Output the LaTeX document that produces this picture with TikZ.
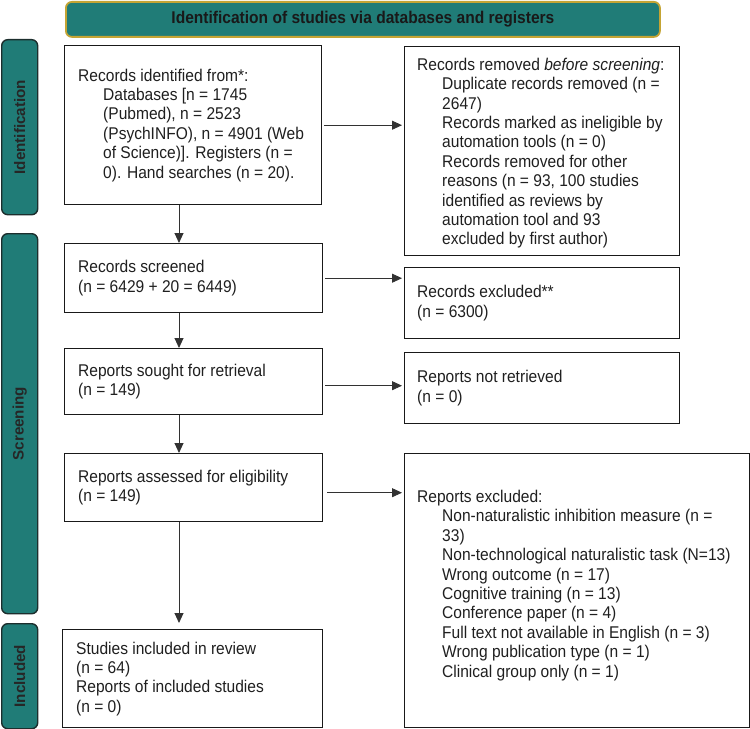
\documentclass[tikz,border=0pt]{standalone}
\usepackage{fontspec}
\setmainfont{Liberation Sans}[FakeStretch=0.915]
\newfontfamily\sidefont{Liberation Sans}
\usetikzlibrary{arrows.meta,calc}
\definecolor{teal1}{RGB}{32,124,119}
\definecolor{goldb}{RGB}{196,164,52}
\definecolor{sideb}{RGB}{28,46,45}
\definecolor{boxb}{RGB}{25,25,25}
\definecolor{arrc}{RGB}{50,50,50}
\newcommand\myBody{\fontsize{17bp}{19.4bp}\selectfont}
\newcommand\ind{\hspace*{25bp}}
\begin{document}
\begin{tikzpicture}[x=1bp,y=-1bp,
  box/.style={draw=boxb, line width=1.4bp, inner sep=0pt, anchor=north west},
  txt/.style={align=left, inner sep=0pt, anchor=west, font=\myBody, text=black!88},
  side/.style={draw=sideb, fill=teal1, line width=1.4bp, rounded corners=6bp, inner sep=0pt, anchor=north west},
  sidelbl/.style={rotate=90, inner sep=0pt, font=\sidefont\bfseries\fontsize{15.2bp}{18bp}\selectfont, text=black!85},
  arr/.style={draw=arrc, line width=0.9bp, -{Triangle[length=10bp,width=9bp]}},
]
\useasboundingbox (0,0) rectangle (750,729);

% header
\node[draw=goldb, fill=teal1, line width=1.8bp, rounded corners=6bp, inner sep=0pt,
      anchor=north west, minimum width=594bp, minimum height=35bp,
      font=\myBody\bfseries, text=black!90] (hdr) at (65,1)
      {Identification of studies via databases and registers};

% side bars
\node[side, minimum width=36bp, minimum height=175bp] (sid) at (1,39) {};
\node[side, minimum width=36bp, minimum height=380bp] (sscr) at (1,233) {};
\node[side, minimum width=36bp, minimum height=105bp] (sinc) at (1,623) {};
\node[sidelbl] (lid) at (sid.center) {Identification};
\node[sidelbl] (lscr) at (sscr.center) {Screening};
\node[sidelbl] (linc) at (sinc.center) {Included};

% boxes
\node[box, minimum width=257bp, minimum height=159bp] (b1) at (64,45) {};
\node[box, minimum width=275bp, minimum height=209bp] (rem) at (404,46) {};
\node[box, minimum width=258bp, minimum height=69bp] (scr) at (64,243) {};
\node[box, minimum width=275bp, minimum height=71bp] (exc) at (404,267) {};
\node[box, minimum width=258bp, minimum height=66bp] (sou) at (64,348) {};
\node[box, minimum width=275bp, minimum height=71bp] (nr) at (404,352) {};
\node[box, minimum width=258bp, minimum height=68bp] (ass) at (64,453) {};
\node[box, minimum width=345bp, minimum height=274bp] (rex) at (404,453) {};
\node[box, minimum width=260bp, minimum height=98bp] (inc) at (62,629) {};

% texts
\node[txt] (tb1) at ([xshift=14bp]b1.west) {Records identified from*:\\
\ind Databases [n = 1745\\
\ind (Pubmed), n = 2523\\
\ind (PsychINFO), n = 4901 (Web\\
\ind of Science)]. Registers (n =\\
\ind 0). Hand searches (n = 20).};
\node[txt] (trem) at ([xshift=13bp,yshift=-2bp]rem.west) {Records removed \textit{before screening}:\\
\ind Duplicate records removed (n =\\
\ind 2647)\\
\ind Records marked as ineligible by\\
\ind automation tools (n = 0)\\
\ind Records removed for other\\
\ind reasons (n = 93, 100 studies\\
\ind identified as reviews by\\
\ind automation tool and 93\\
\ind excluded by first author)};
\node[txt] (tscr) at ([xshift=14bp]scr.west) {Records screened\\(n = 6429 + 20 = 6449)};
\node[txt] (texc) at ([xshift=13bp]exc.west) {Records excluded**\\(n = 6300)};
\node[txt] (tsou) at ([xshift=14bp]sou.west) {Reports sought for retrieval\\(n = 149)};
\node[txt] (tnr) at ([xshift=13bp]nr.west) {Reports not retrieved\\(n = 0)};
\node[txt] (tass) at ([xshift=14bp]ass.west) {Reports assessed for eligibility\\(n = 149)};
\node[txt, anchor=north west] (trex) at ([xshift=13bp,yshift=-37bp]rex.north west) {Reports excluded:\\
\ind Non-naturalistic inhibition measure (n =\\
\ind 33)\\
\ind Non-technological naturalistic task (N=13)\\
\ind Wrong outcome (n = 17)\\
\ind Cognitive training (n = 13)\\
\ind Conference paper (n = 4)\\
\ind Full text not available in English (n = 3)\\
\ind Wrong publication type (n = 1)\\
\ind Clinical group only (n = 1)};
\node[txt] (tinc) at ([xshift=14bp]inc.west) {Studies included in review\\(n = 64)\\Reports of included studies\\(n = 0)};

% connectors
\coordinate (vx) at (179,0);
\draw[arr] (b1.south -| vx) -- (scr.north -| vx);
\draw[arr] (scr.south -| vx) -- (sou.north -| vx);
\draw[arr] (sou.south -| vx) -- (ass.north -| vx);
\draw[arr, shorten >=6bp] (ass.south -| vx) -- (inc.north -| vx);
\draw[arr, shorten <=2bp, shorten >=2bp] (b1.east) -- (b1.east -| rem.west);
\draw[arr, shorten <=2bp, shorten >=2bp] (scr.east) -- (scr.east -| exc.west);
\draw[arr, shorten <=2bp, shorten >=2bp] ([yshift=-4bp]sou.east) -- ([yshift=-4bp]sou.east -| nr.west);
\draw[arr, shorten <=4bp, shorten >=2bp] ([yshift=-5bp]ass.east) -- ([yshift=-5bp]ass.east -| rex.west);
\end{tikzpicture}
\end{document}
